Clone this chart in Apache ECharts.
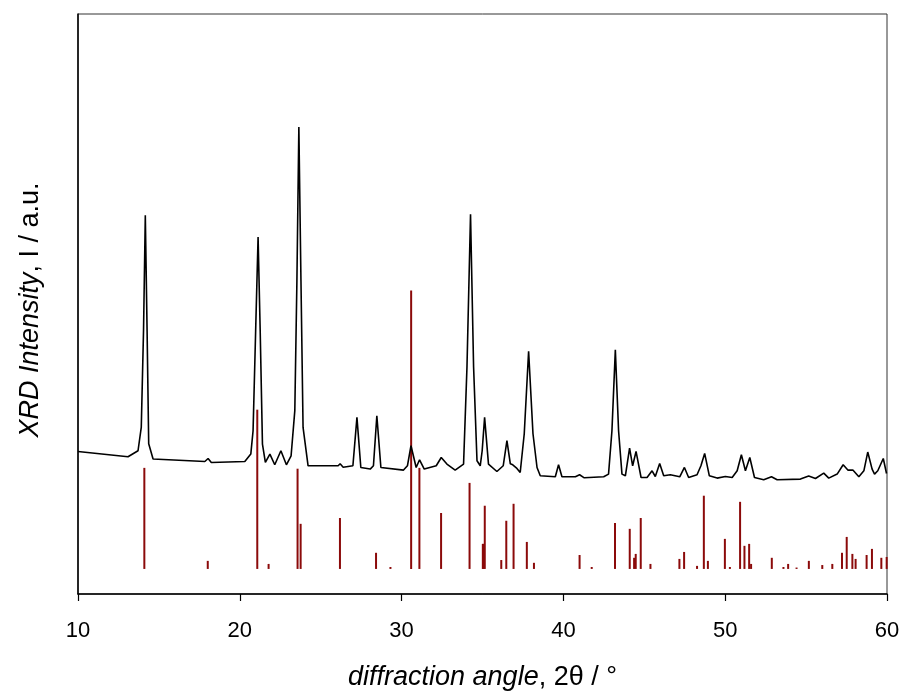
<!DOCTYPE html>
<html>
<head>
<meta charset="utf-8">
<script src="https://cdn.jsdelivr.net/npm/echarts@6/dist/echarts.min.js"></script>
<style>html,body{margin:0;padding:0;background:#fff;}#c{width:902px;height:693px;}</style>
</head>
<body>
<div id="c"></div>
<script>
// Measured XRD pattern: 2θ (deg) and intensity (a.u.)
const patternAngle = [10.00,13.09,13.71,13.91,14.05,14.16,14.27,14.37,14.64,17.84,18.04,18.24,20.31,20.68,20.82,20.98,21.13,21.26,21.40,21.58,21.86,22.16,22.54,22.88,23.17,23.40,23.53,23.65,23.78,23.91,24.22,26.08,26.20,26.39,26.99,27.24,27.48,28.06,28.26,28.47,28.72,30.12,30.36,30.58,30.90,31.11,31.40,32.14,32.45,32.80,33.31,33.83,34.04,34.26,34.45,34.66,34.86,34.98,35.13,35.37,35.89,36.28,36.51,36.72,36.87,37.09,37.33,37.58,37.85,38.12,38.37,38.57,39.50,39.70,39.91,40.74,41.00,41.29,42.49,42.79,43.00,43.21,43.41,43.62,43.83,44.09,44.28,44.49,44.80,45.17,45.48,45.68,45.95,46.20,46.61,47.19,47.48,47.74,48.26,48.50,48.73,49.02,49.50,50.01,50.43,50.74,51.00,51.25,51.52,51.81,52.38,52.86,53.21,54.65,55.16,55.58,56.09,56.40,56.92,57.29,57.58,57.89,58.26,58.57,58.81,59.08,59.23,59.43,59.77,59.97];
const patternIntensity = [142.3,137,143,166.3,263,378,263,150,134.7,132.3,135.3,131.3,132.3,139.7,163,263,356.3,263,149.7,131.3,139.7,129,143,129,138,183,313,466.3,313,166.3,128,128,130,126.5,128,176.3,126.3,124.7,128,178,126.3,123.7,128,148,126.3,134,124.7,128,136.3,129.7,123.7,129.7,226.3,379,226.3,133,128,143,176.3,129.7,122.3,128,153,130,129,126,121.3,160,242.3,160,126.3,118,117,129,117,117,119,116,117,119.7,163,243.7,163,119.7,118,145.7,128,142.3,116.3,116.3,123,117.3,130.3,118,119,117,126.3,116.3,119,128,140.3,118,115.7,117.3,116.3,123,139,123,136.3,116.3,114,117,114,114.7,117.7,115.3,120.7,115.7,119.7,129,123.7,123.7,117,123,141.7,124.7,119.7,123,135.3,120.3];

// Reference reflections: 2θ (deg) and relative intensity (%)
const refAngle = [14.10,18.02,21.08,21.78,23.57,23.76,26.19,28.42,29.31,30.59,31.10,32.44,34.20,35.02,35.06,35.14,36.16,36.47,36.92,37.74,38.18,41.00,41.75,43.19,44.10,44.37,44.47,44.78,45.38,47.17,47.46,48.26,48.68,48.93,49.98,50.29,50.92,51.19,51.48,51.60,52.88,53.60,53.89,54.41,55.17,56.00,56.62,57.22,57.51,57.86,58.06,58.74,59.07,59.65,59.98];
const refIntensity = [36.3,2.9,57.2,1.8,36.0,16.2,18.3,5.8,0.7,100,36.3,20.1,30.9,9.0,9.0,22.7,3.2,17.3,23.4,9.7,2.2,5.0,0.7,16.5,14.4,4.0,5.4,18.3,1.8,3.6,6.1,1.1,26.3,2.9,10.8,0.7,24.1,8.3,9.0,1.8,4.0,0.7,1.8,0.5,2.9,1.4,1.8,5.8,11.5,5.4,3.6,5.0,7.2,4.0,4.3];

const xTicks = [10, 20, 30, 40, 50, 60];

const chart = echarts.init(document.getElementById('c'), null, {renderer: 'canvas'});
const lineData = patternAngle.map((a, i) => [a, patternIntensity[i]]);
const stickData = refAngle.map((a, i) => [a, refIntensity[i]]);
const FONT = 'Liberation Sans, Arial, sans-serif';

chart.setOption({
  animation: false,
  backgroundColor: '#fff',
  grid: {left: 78, right: 15, top: 14, bottom: 99, outerBoundsMode: 'none', containLabel: false,
         show: true, borderColor: '#333', borderWidth: 1, backgroundColor: 'transparent'},
  xAxis: {
    type: 'value', min: xTicks[0], max: xTicks[xTicks.length - 1], interval: 10,
    axisLine: {show: true, onZero: false, lineStyle: {color: '#000', width: 1.5}},
    axisTick: {show: true, inside: false, length: 7, lineStyle: {color: '#000', width: 1.2}},
    axisLabel: {show: true, color: '#000', fontSize: 22, fontFamily: FONT, margin: 26},
    splitLine: {show: false},
    name: '{i|diffraction angle}{n|, 2θ / °}',
    nameLocation: 'middle', nameGap: 70,
    nameTextStyle: {
      rich: {
        i: {fontSize: 27, fontStyle: 'italic', color: '#000', fontFamily: FONT},
        n: {fontSize: 27, color: '#000', fontFamily: FONT}
      }
    }
  },
  yAxis: [
    {
      type: 'value', min: 0, max: 579,
      axisLine: {show: true, onZero: false, lineStyle: {color: '#000', width: 1.5}},
      axisTick: {show: false}, axisLabel: {show: false}, splitLine: {show: false},
      name: '{i|XRD Intensity}{n|, I / a.u.}',
      nameLocation: 'middle', nameGap: 34,
      nameTextStyle: {
        padding: [0, 12, 0, 0],
        rich: {
          i: {fontSize: 27, fontStyle: 'italic', color: '#000', fontFamily: FONT},
          n: {fontSize: 27, color: '#000', fontFamily: FONT}
        }
      }
    },
    {
      type: 'value', min: -9, max: 199.3, show: false, splitLine: {show: false}
    }
  ],
  series: [
    {
      type: 'bar', yAxisIndex: 1, data: stickData, barWidth: 2,
      itemStyle: {color: '#8b0a0a'}, silent: true, z: 2
    },
    {
      type: 'line', yAxisIndex: 0, data: lineData, showSymbol: false, symbol: 'none',
      lineStyle: {color: '#000', width: 1.6}, z: 3, silent: true
    }
  ]
});
</script>
</body>
</html>
